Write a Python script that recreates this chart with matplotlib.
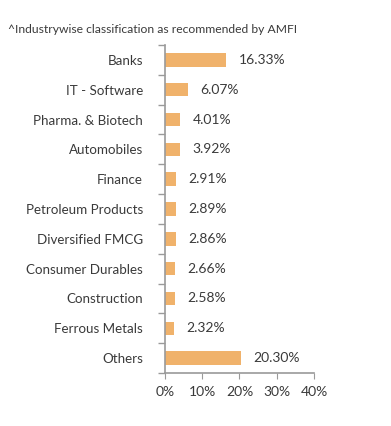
import numpy as np
import matplotlib
matplotlib.use("Agg")
import matplotlib.pyplot as plt
from matplotlib.ticker import FuncFormatter

sectors = ["Banks", "IT - Software", "Pharma. & Biotech", "Automobiles", "Finance",
           "Petroleum Products", "Diversified FMCG", "Consumer Durables",
           "Construction", "Ferrous Metals", "Others"]
weights = [16.33, 6.07, 4.01, 3.92, 2.91, 2.89, 2.86, 2.66, 2.58, 2.32, 20.30]
x_ticks = [0, 10, 20, 30, 40]

plt.rcParams['font.family'] = ['Lato', 'DejaVu Sans']
text_col = "#3a3a3a"
axis_col = "#9a9a9a"

fig = plt.figure(figsize=(3.91, 4.26), dpi=100)
ax = fig.add_axes([0.422, 0.1244, 0.381, 0.770])

y = np.arange(len(sectors))
ax.barh(y, weights, height=0.45, color="#F0B26B", edgecolor="none")
for yi, w in zip(y, weights):
    ax.text(w + 3.4, yi, f"{w:.2f}%", va="center", ha="left", fontsize=10, color=text_col)

ax.set_ylim(len(sectors) - 0.5, -0.5)
ax.set_xlim(0, 40)
ax.set_xticks(x_ticks)
ax.xaxis.set_major_formatter(FuncFormatter(lambda v, p: f"{v:.0f}%"))

# category labels sit between boundary ticks
ax.set_yticks(y)
ax.set_yticklabels(sectors, fontsize=9.6, color=text_col)
ax.tick_params(axis="y", which="major", length=0, pad=16)
ax.set_yticks(np.arange(len(sectors) + 1) - 0.5, minor=True)
ax.tick_params(axis="y", which="minor", length=5, color=axis_col, width=1)
ax.tick_params(axis="x", length=4, color=axis_col, labelsize=10, labelcolor=text_col, pad=5)

for s in ["top", "right"]:
    ax.spines[s].set_visible(False)
for s in ["left", "bottom"]:
    ax.spines[s].set_color(axis_col)
    ax.spines[s].set_linewidth(1.2)

fig.text(0.02, 0.93, "^Industrywise classification as recommended by AMFI",
         fontsize=8.7, color=text_col, va="center", ha="left")

fig.savefig("out.png", dpi=100)
